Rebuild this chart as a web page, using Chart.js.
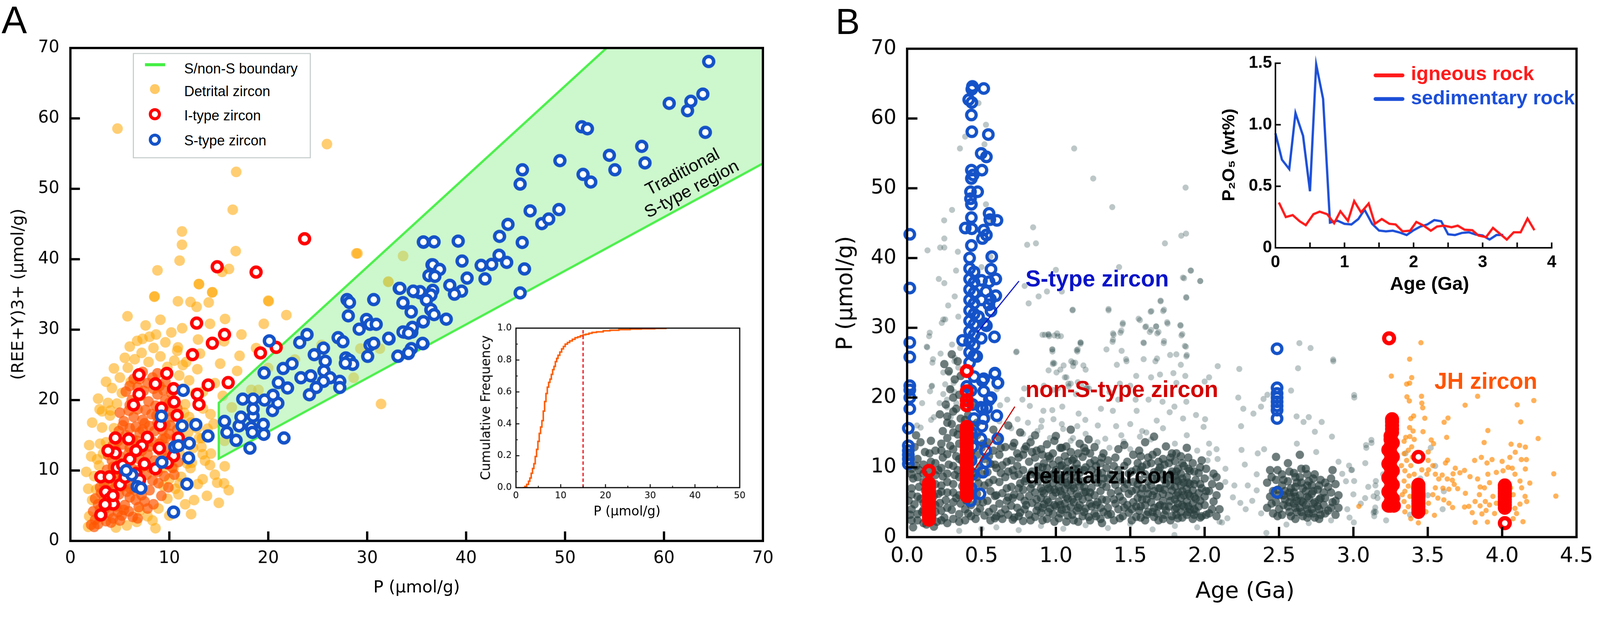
<!DOCTYPE html>
<html>
<head>
<meta charset="utf-8">
<script src="https://cdn.jsdelivr.net/npm/chart.js@4.4.1/dist/chart.umd.min.js"></script>
<style>
  html, body { margin: 0; padding: 0; background: #fff; overflow: hidden; }
  #page { position: relative; width: 4205px; height: 1584px; overflow: hidden; background: #fff; transform-origin: 0 0; }
  canvas { position: absolute; }
  .t { position: absolute; white-space: nowrap; line-height: 1; }
  .c { transform: translate(-50%, -50%); }
  .dj { font-family: 'DejaVu Sans', sans-serif; }
  .ar { font-family: 'Liberation Sans', Arial, sans-serif; }
  .b { font-weight: bold; }
  .mk { position: absolute; box-sizing: border-box; border-radius: 50%; }
</style>
</head>
<body>
<div id="page">
  <canvas id="chartA" width="2100" height="1584" style="left:0;top:0"></canvas>
  <canvas id="chartB" width="2105" height="1584" style="left:2100px;top:0"></canvas>
  <canvas id="insetA" width="800" height="560" style="left:1200px;top:820px"></canvas>
  <canvas id="insetB" width="1055" height="720" style="left:3150px;top:100px"></canvas>

  <!-- panel A text -->
  <div class="t ar" style="left:4px;top:2px;font-size:100px">A</div>
  <div class="t dj c" style="left:1095px;top:1541px;font-size:44px">P (µmol/g)</div>
  <div class="t dj" style="left:46px;top:773px;font-size:44px;transform:translate(-50%,-50%) rotate(-90deg)">(REE+Y)3+ (µmol/g)</div>
  <div class="t ar" style="left:1805px;top:473px;font-size:46px;line-height:51px;text-align:center;transform:translate(-50%,-50%) rotate(-28deg)">Traditional<br>S-type region</div>

  <div style="position:absolute;left:349px;top:139px;width:462px;height:271px;border:3px solid #c8cfcf;background:#fff"></div>
  <div style="position:absolute;left:381px;top:166px;width:53px;height:8px;background:#44ee44"></div>
  <div class="mk" style="left:394px;top:221px;width:26px;height:26px;background:rgba(255,165,0,0.6)"></div>
  <div class="mk" style="left:391px;top:284px;width:32px;height:32px;border:8px solid #ff0000;background:#fff"></div>
  <div class="mk" style="left:391px;top:351px;width:32px;height:32px;border:8px solid #1452c8;background:#fff"></div>
  <div class="t ar" style="left:484px;top:162px;font-size:37px">S/non-S boundary</div>
  <div class="t ar" style="left:484px;top:222px;font-size:37px">Detrital zircon</div>
  <div class="t ar" style="left:484px;top:285px;font-size:37px">I-type zircon</div>
  <div class="t ar" style="left:484px;top:351px;font-size:37px">S-type zircon</div>

  <div class="t dj c" style="left:1648px;top:1342px;font-size:34px">P (µmol/g)</div>
  <div class="t dj" style="left:1276px;top:1071px;font-size:34px;transform:translate(-50%,-50%) rotate(-90deg)">Cumulative Frequency</div>

  <!-- panel B text -->
  <div class="t ar" style="left:2196px;top:8px;font-size:96px">B</div>
  <div class="t dj" style="left:2219px;top:770px;font-size:58px;transform:translate(-50%,-50%) rotate(-90deg)">P (µmol/g)</div>
  <div class="t dj c" style="left:3272px;top:1550px;font-size:59px">Age (Ga)</div>
  <div class="t ar b" style="left:2695px;top:703px;font-size:60px;color:#0a14c8">S-type zircon</div>
  <div class="t ar b" style="left:2695px;top:993px;font-size:60px;color:#d20000">non-S-type zircon</div>
  <div class="t ar b" style="left:2695px;top:1220px;font-size:60px;color:#000">detrital zircon</div>
  <div class="t ar b" style="left:3770px;top:971px;font-size:60px;color:#ff5500">JH zircon</div>

  <div class="t ar b" style="left:3228px;top:407px;font-size:46px;transform:translate(-50%,-50%) rotate(-90deg)">P₂O₅ (wt%)</div>
  <div class="t ar b c" style="left:3757px;top:745px;font-size:50px">Age (Ga)</div>
  <div style="position:absolute;left:3610px;top:193px;width:81px;height:10px;border-radius:5px;background:#ff1a1a"></div>
  <div style="position:absolute;left:3610px;top:255px;width:81px;height:10px;border-radius:5px;background:#1c4fd8"></div>
  <div class="t ar b" style="left:3708px;top:166px;font-size:52px;color:#ff1a1a">igneous rock</div>
  <div class="t ar b" style="left:3708px;top:230px;font-size:52px;color:#1c4fd8">sedimentary rock</div>
</div>

<script>
// fit the 4205x1584 figure into whatever CSS viewport the browser gives us
(function () {
  const page = document.getElementById("page");
  const s = Math.min(window.innerWidth / 4205, window.innerHeight / 1584);
  page.style.transform = `scale(${s})`;
})();

// ── PANEL A DATA ─────────────────────────────────────────────────
const ticksAx = [0, 10, 20, 30, 40, 50, 60, 70];
const ticksAy = [0, 10, 20, 30, 40, 50, 60, 70];

const sTypeA = [
  [10.43,4.1],[11.77,8.07],[6.21,9.38],[5.64,10.0],[6.75,7.72],[7.12,7.48],[9.25,11.17],[11.95,11.79],
  [10.55,13.34],[10.92,13.52],[12.02,13.86],[13.91,14.9],[12.68,16.52],[11.29,16.34],[9.2,17.72],[11.41,21.38],
  [15.58,16.97],[15.82,15.41],[16.75,14.28],[17.05,16.34],[18.15,13.17],[17.24,17.58],[18.28,16.1],[18.4,15.41],
  [18.47,17.72],[18.47,18.76],[17.42,20.14],[18.47,20.14],[19.5,16.55],[19.55,15.14],[19.62,20.0],[20.43,18.52],
  [20.97,19.55],[20.48,20.69],[21.02,22.48],[21.59,14.62],[21.95,21.72],[19.58,23.86],[20.11,28.41],[21.51,24.48],
  [22.4,25.17],[23.3,23.17],[24.29,23.45],[23.18,28.17],[23.92,29.31],[24.65,26.45],[25.58,27.38],[25.76,25.52],
  [25.63,24.14],[26.25,23.17],[25.58,22.66],[24.85,21.79],[24.16,20.76],[27.23,22.66],[27.23,21.79],[27.06,28.86],
  [27.55,28.28],[27.84,25.99],[28.21,25.65],[28.53,25.07],[27.79,25.24],[27.96,34.27],[28.21,33.86],[28.09,31.96],
  [29.19,30.07],[29.93,31.45],[30.29,30.76],[30.91,30.76],[30.05,26.21],[30.29,27.83],[30.66,28.07],[30.66,34.27],
  [32.21,28.69],[33.12,26.21],[33.24,35.86],[33.61,33.79],[34.46,32.55],[34.17,26.62],[34.46,27.31],[33.73,29.65],
  [34.51,29.65],[35.64,31.1],[35.64,28.0],[34.71,35.41],[35.32,35.24],[35.69,42.41],[36.55,39.21],[36.43,34.9],
  [36.79,37.66],[36.43,32.83],[35.94,34.55],
  [64.52,68.08],[63.93,63.45],[62.72,62.43],[62.38,61.1],[60.53,62.14],[64.18,58.02],[51.69,58.81],[52.26,58.53],
  [57.75,56.03],[58.08,53.68],[54.48,54.76],[55.04,52.7],[51.82,52.05],[52.6,50.96],[49.48,54.0],[45.69,52.7],
  [45.46,50.67],[46.47,46.87],[47.65,45.06],[48.35,45.71],[49.38,47.05],[44.23,44.95],[43.38,43.25],[45.67,42.38],
  [43.33,40.57],[44.1,39.56],[45.9,38.62],[45.46,35.22],[42.58,39.27],[41.52,39.13],[41.91,37.21],[40.1,37.32],
  [39.59,39.74],[39.2,42.57],[36.76,42.46],[35.68,42.46],[36.63,39.2],[37.32,38.55],[36.24,37.68],[36.84,37.57],
  [38.35,36.3],[39.54,35.47],[38.82,35.04],[36.63,35.58],[36.45,34.93],[35.99,34.2],[35.34,35.4],[34.65,35.47],
  [33.31,35.87],[33.62,33.84],[34.44,32.5],[36.45,32.86],[36.76,32.14],[35.68,31.13],[37.99,31.49],[34.57,30.33],
  [33.62,29.68],[34.18,29.5],[32.17,28.78],[35.6,28.05],[34.18,26.71],[33.1,26.24]
];

const iTypeA = [
  [23.67,42.9],[14.84,38.93],[18.77,38.17],[12.76,30.93],[15.58,29.31],[14.35,28.07],[12.34,26.45],[19.21,26.69],
  [20.8,27.48],[15.95,22.48],[13.93,22.14],[12.83,20.83],[13.0,19.38],[9.74,23.79],[6.94,23.59],[8.59,22.31],
  [6.94,20.83],[6.38,19.31],[10.43,21.62],[10.48,19.72],[10.79,17.83],[9.2,18.86],[9.08,16.45],[10.92,14.62],
  [7.78,14.72],[5.89,14.48],[4.54,14.62],[7.24,13.52],[6.63,12.83],[4.54,12.48],[3.8,12.83],[9.0,13.17],
  [10.43,12.07],[6.01,11.62],[6.63,9.55],[4.74,10.41],[3.07,9.1],[3.93,9.1],[5.03,8.0],[3.56,6.97],
  [3.93,5.93],[4.34,5.24],[3.51,5.17],[3.07,3.69],[4.3,6.45],[5.28,10.76],[7.48,10.93],[8.59,10.24],
  [9.81,11.1],[5.52,9.03],[6.99,8.69]
];

const detritalHaloA = [
  [4.76,58.55],[25.93,56.35],[16.76,52.4],[16.41,47.03],[11.28,43.94],[11.28,42.06],[16.71,41.15],[11.04,39.8],
  [8.8,38.42],[16.03,38.62],[15.33,38.2],[12.98,36.49],[14.33,35.3],[8.48,34.67],[28.9,40.82],[33.63,40.46],
  [32.14,36.82],[20.0,34.12],[13.0,36.45],[14.35,35.31],[8.51,34.72],[10.87,34.03],[12.14,33.93],[12.76,33.24],
  [13.98,33.86],[20.04,34.03],[5.77,31.9],[14.11,30.83],[15.63,31.52],[17.29,29.31],[21.83,32.07],[19.55,30.83],
  [8.66,29.31],[7.29,28.69],[6.75,28.41],[10.87,27.48],[15.53,28.34],[17.1,26.28],[15.14,25.17],[12.83,24.38],
  [11.36,24.97],[16.85,24.14],[18.77,27.38],[29.02,40.83],[32.13,36.79],[31.28,27.31],[29.31,27.31],[28.63,23.17],
  [31.4,19.45],[25.39,27.83],[22.69,25.76],[19.99,24.55],[19.01,21.45],[18.28,21.45],[16.31,18.96],[15.58,14.21],
  [14.84,8.27],[15.53,8.17],[13.37,8.76],[12.88,8.07],[14.11,10.76],[13.37,12.31],[13.25,13.34],[12.27,11.1],
  [12.14,10.34],[14.16,18.0],[14.47,16.62],[13.86,15.93],[10.92,6.62],[11.04,8.17],[10.43,10.34],[2.95,18.69],
  [4.05,18.52],
  [1.8,2.0],[1.9,3.5],[2.2,5.8],[2.6,7.3],[2.4,9.2],[2.9,10.7],[3.3,12.4],[3.6,14.0],[3.2,16.1],[4.0,17.8],
  [4.4,16.0],[4.7,19.5],[5.2,21.0],[5.0,23.2],[5.8,24.6],[6.5,25.8],[7.2,26.7],[7.9,25.4],[8.4,27.4],[9.1,26.2],
  [9.8,24.7],[10.5,25.6],[11.0,23.5],[11.3,21.6],[11.6,19.4],[12.0,17.6],[11.9,15.4],[12.4,13.2],[11.8,11.0],
  [11.2,9.1],[10.6,7.4],[9.8,6.0],[8.9,4.6],[7.8,3.5],[6.7,2.7],[5.7,2.2],[4.6,1.9],[10.0,8.8],[9.4,10.4],
  [11.0,12.6],[12.8,16.0],[13.4,18.8],[12.6,21.0],[6.0,27.6],[9.6,28.2],[10.8,27.0],[5.5,26.0],[4.2,21.7],
  [3.8,19.6],[12.9,19.3],[13.3,14.6],[13.6,11.4],[8.3,2.9],[7.0,4.3],[9.4,7.8],[3.0,13.8],[2.7,11.6],[6.1,22.6],
  [11.5,18.2],
  [12.5,5.8],[13.8,6.4],[14.6,9.4],[15.6,10.6],[14.2,12.4],[13.0,14.6],[12.2,16.8],[13.4,21.2],[14.6,22.4],
  [15.4,20.6],[12.0,22.8],[11.7,25.4],[13.1,26.6],[10.2,29.6],[7.6,30.6],[9.1,31.4],[8.0,29.0],[11.3,30.2],
  [12.9,28.6],[4.4,24.5],[3.6,22.6],[2.8,20.2],[2.2,16.8],[1.9,13.6],[1.6,9.8],[1.8,7.4],[2.1,12.0],[3.2,18.4],
  [15.0,5.4],[16.0,7.2],[8.6,1.8],[10.0,3.6],[11.6,5.2],[12.2,3.8]
];

const detritalCoreA = [
  [2.1,2.3],[2.5,3.0],[2.8,2.4],[3.2,3.5],[3.6,2.8],[3.9,4.0],[4.3,3.2],[2.3,4.2],[4.8,4.1],[5.2,3.6],
  [2.8,5.2],[3.4,5.8],[3.9,6.3],[4.4,5.4],[4.9,6.6],[5.5,5.1],[6.0,6.2],[3.1,6.8],[5.7,7.0],[6.6,5.8],[4.2,7.2],[7.2,6.5],
  [3.4,8.2],[4.0,9.0],[4.6,8.4],[5.3,9.3],[5.9,8.1],[6.5,9.0],[7.1,8.2],[7.7,9.4],[8.3,8.6],[4.9,10.0],[6.2,10.3],[3.7,10.1],[8.8,9.8],[7.4,10.6],
  [4.2,11.4],[5.0,12.0],[5.7,11.2],[6.4,12.4],[7.0,11.6],[7.8,12.3],[8.5,11.4],[9.2,12.6],[4.6,12.9],[6.0,13.2],[8.0,13.4],[9.8,11.8],[10.4,13.0],
  [4.8,14.2],[5.6,15.0],[6.3,14.4],[7.0,15.4],[7.7,14.6],[8.5,15.6],[9.3,14.4],[10.0,15.2],[6.0,16.0],[8.0,16.3],[9.6,16.5],[10.6,14.6],
  [5.4,17.0],[6.4,17.6],[7.3,17.2],[8.2,18.0],[9.0,17.4],[9.8,18.4],[6.8,18.7],[8.6,19.2],[10.3,17.6],[5.9,18.5],
  [6.2,20.0],[7.1,20.6],[7.9,19.8],[8.8,20.8],[9.6,20.0],[6.8,21.8],[7.8,22.4],[9.0,22.0],[10.2,21.0],[8.3,23.2],[6.4,23.0],[7.3,24.0],
  [5.0,8.0],[5.6,10.5],[6.8,13.0],[7.5,13.8],[6.1,7.4],[4.5,9.6],[7.3,15.8],[8.8,13.2],[3.0,4.5],[4.0,5.0],
  [2.4,2.0],[2.9,3.4],[3.5,4.6],[4.1,2.6],[4.6,4.9],[5.0,2.9],[5.9,4.2],[6.3,3.4],[2.5,6.0],[3.0,7.6],
  [3.6,7.0],[4.4,6.2],[5.2,7.7],[5.4,4.4],[6.5,7.2],[6.9,4.8],[7.5,5.6],[8.0,7.2],[3.9,8.0],[4.3,10.5],
  [5.0,11.0],[5.6,9.6],[6.8,10.0],[7.5,11.2],[8.2,10.3],[9.0,10.9],[9.5,9.2],[3.8,12.2],[4.3,13.6],[5.3,13.7],
  [5.9,12.5],[6.7,14.2],[7.2,12.8],[8.3,14.1],[9.0,13.8],[9.7,13.3],[10.2,12.0],[4.9,15.6],[5.3,16.4],[6.6,16.2],
  [7.5,16.7],[8.8,16.8],[9.3,15.7],[10.1,16.4],[10.8,15.8],[5.0,18.2],[6.0,19.3],[7.6,18.6],[8.7,17.8],[9.4,19.0],
  [10.0,19.6],[10.8,18.8],[5.6,21.2],[7.4,21.3],[8.4,21.6],[9.4,21.4],[7.0,23.0],[8.8,23.8],[9.6,22.6],[6.0,22.0],
  [8.4,5.2],[9.2,6.4],[9.9,7.6],[10.5,9.4],[10.9,11.2],[8.9,8.2],[7.8,4.6],[6.8,3.2],[10.3,10.4],[9.6,14.6]
];

// S/non-S boundary and the traditional S-type field
const boundaryA = [[70,53.6],[15,11.7],[15,19.6],[54.2,70]];
const regionA   = [[15,11.7],[15,19.6],[54.2,70],[70,70],[70,53.6]];

// inset: cumulative frequency of detrital P
const cdfP = [1.5,2.0,2.4,2.8,3.1,3.4,3.7,4.0,4.3,4.6,4.9,5.2,5.5,5.8,6.1,6.4,6.7,7.0,7.3,7.6,7.9,8.2,8.5,8.8,9.1,9.4,9.8,10.2,10.6,11.0,11.5,12.0,12.6,13.2,13.8,14.4,15.0,15.6,16.3,17.0,18.0,19.5,21.0,23.0,25.5,28.0,31.0,33.5];
const cdfF = [0,0.008,0.02,0.04,0.06,0.09,0.12,0.15,0.195,0.24,0.29,0.34,0.38,0.42,0.48,0.54,0.59,0.63,0.66,0.68,0.71,0.74,0.76,0.79,0.81,0.83,0.85,0.87,0.885,0.90,0.91,0.92,0.93,0.94,0.945,0.952,0.958,0.962,0.968,0.973,0.977,0.983,0.987,0.991,0.994,0.996,0.998,1.0];
const cutoffP = 15;
const ticksInsetAx = [0, 10, 20, 30, 40, 50];
const ticksInsetAy = [0, 0.2, 0.4, 0.6, 0.8, 1.0];

// ── PANEL B DATA ─────────────────────────────────────────────────
const ticksBx = [0, 0.5, 1, 1.5, 2, 2.5, 3, 3.5, 4, 4.5];
const ticksBy = [0, 10, 20, 30, 40, 50, 60, 70];

const grayLightB = [
  [1.123,55.7],[1.251,51.4],[1.872,50.1],[1.379,47.3],[0.302,46.9],[0.249,45.4],[0.847,44.4],[1.843,43.2],[1.875,43.5],
  [0.25,42.8],[0.807,41.9],[0.866,42.1],[1.733,42.1],[0.137,41.1],[0.222,41.5],[0.25,41.5],[0.341,40.9],[1.425,38.7],
  [1.908,38.2],[1.854,37.2],[1.97,36.7],[1.0,38.3],[0.94,35.2],[1.04,35.2],[0.79,36.0],[0.213,37.0],[0.25,36.4],
  [0.329,38.2],[1.876,34.4],[0.884,34.5],[0.817,33.5],[1.704,33.9],[1.113,32.6],[1.354,32.7],[1.642,32.4],[1.727,32.6],
  [1.837,30.4],[1.748,30.8],[1.45,30.7],[1.556,31.3],[1.606,30.2],[1.674,30.2],[1.64,29.7],[1.69,29.4],[1.85,29.1],
  [1.384,29.2],[1.44,29.6],[0.95,29.1],[0.91,29.0],[0.99,28.9],[1.589,27.9],[1.727,28.1],[1.384,28.3],[1.166,27.9],
  [1.867,27.4],[0.733,26.5],[0.976,26.9],[1.14,26.8],[1.34,26.9],[1.88,26.1],[1.472,25.5],[1.81,26.2],[1.68,25.6],
  [1.59,25.5],[1.13,25.0],[0.98,24.8],[1.03,24.0],[1.2,24.0],[1.41,24.7],[1.84,24.7],[1.54,23.1],[1.64,22.9],
  [1.70,23.3],[1.79,23.5],[1.87,23.1],[2.03,22.9],[1.06,22.9],[1.1,22.0],[1.43,22.0],[1.5,21.7],[1.81,22.1],
  [2.0,22.3],[0.92,21.7],[0.98,21.1],[1.21,21.4],
  [0.135,27.2],[0.152,29.3],[0.17,25.0],[0.243,31.2],[0.225,26.3],[0.276,33.2],[0.32,34.5],[0.302,27.6],[0.32,25.7],
  [0.165,21.6],[0.243,23.6],[0.355,55.7],[0.39,57.4],[0.48,62.2],[0.53,59.1],[0.52,56.3],[0.53,47.7],[0.55,45.2],
  [0.5,38.7],[0.56,40.2],
  [1.112,32.5],[1.354,32.5],[1.637,32.3],[1.721,32.4],[1.704,33.8],[1.877,34.3],[1.971,36.7],[1.906,38.2],[1.862,37.1],
  [1.565,31.1],[1.449,30.5],[1.601,30.1],[1.674,30.2],[1.751,30.6],[1.838,30.3],[1.434,29.3],[1.388,29.0],[1.631,29.4],
  [1.681,29.2],[1.844,28.9],[1.381,28.0],[1.166,27.7],[1.013,28.8],[0.955,28.8],[1.725,27.8],[1.591,27.8],[1.874,27.3],
  [1.442,26.7],[1.144,26.6],[0.977,26.6],[1.768,26.1],[1.877,25.9],[1.669,25.2],[1.475,25.2],[1.115,25.0],[0.99,24.9],
  [2.233,24.1],[2.088,24.5],[2.628,24.2],[2.637,27.8],[2.712,27.1],[2.865,25.2],[2.581,21.0],[3.006,20.0],[2.226,20.0],
  [2.26,18.4],[2.328,17.7],[2.379,18.7],[2.396,19.8],[2.422,20.4],[2.618,17.3],[2.7,17.2],[2.787,16.5],[2.665,16.5],
  [2.741,15.1],[2.856,14.4],[3.122,13.5],[3.087,12.8],[2.986,9.6],[3.148,7.4],[3.162,5.6],[3.14,3.0],[3.14,3.7],
  [2.974,2.8],[3.003,2.1],[2.415,0.6],[1.797,0.3],[2.245,15.9],[2.248,12.5],[2.357,12.0],[2.27,10.4],[2.2,7.4],
  [2.24,4.9],[2.276,4.0],[2.153,2.7],[2.117,2.1],[2.19,5.7],[2.29,7.4],[2.35,6.7],[2.139,7.9],[2.044,8.6],
  [2.03,12.0],[2.087,11.2],[2.03,13.4],[2.003,16.9],[1.877,19.4],[1.797,18.7],[1.717,19.4],[1.623,19.7],[1.536,19.7],
  [1.419,19.7],[1.361,20.8],[1.223,21.3],[1.172,21.7],[1.085,21.6],[1.013,21.3],[1.303,18.4],[1.383,18.1],[1.543,18.1],
  [1.678,16.7],[1.765,17.9],[1.855,17.0],[1.942,17.5],[1.993,15.8],[1.5,16.2],[1.405,15.9],[1.282,16.0],[1.144,15.9],
  [1.049,15.5],[0.984,16.9],[1.115,14.2],[1.332,14.1],[1.456,13.7],[1.565,14.4],[1.608,15.0],
  [0.101,19.2],[0.148,28.8],[0.132,27.3],[0.174,25.5],[0.233,30.7],[0.256,31.2],[0.344,31.6],[0.167,21.7],[0.154,20.9],
  [0.18,17.2],[0.161,16.8],[0.066,16.0],[0.091,15.7],[0.736,26.6],[0.926,29.0],[0.951,29.0],[1.008,29.2],[1.034,28.8],
  [1.166,27.9],[1.147,26.9],[0.976,26.9],[0.982,25.0],[1.052,24.6],[1.116,24.5],[1.185,24.6],[1.103,25.2],[0.951,23.9],
  [1.004,23.6],[1.071,22.9],[1.084,22.0],[1.147,22.2],[1.204,21.3],[1.135,20.5],[1.043,18.7],[0.916,18.1],[0.976,18.2],
  [1.153,17.7],[1.198,16.8],[0.905,16.7],[0.825,18.8],[0.775,19.7],[0.787,21.3],[0.743,16.9],[0.673,19.7],[0.603,21.2],
  [0.625,18.9],[0.812,16.4],[0.876,15.2],[0.831,14.2],
  [0.243,20.5],[0.268,19.7],[0.218,19.2],[0.293,21.3],[0.318,20.8],[0.256,21.9],[0.293,17.2],[0.268,18.6],[0.331,19.2],
  [0.313,22.1],[0.281,23.5],[0.344,24.3],[0.318,25.2],[0.356,27.1],
  [3.05,4.8],[3.1,7.2],[3.15,3.6],[3.2,9.0],[3.3,5.6],[3.35,12.0],[3.38,3.2],[3.45,8.4],[3.5,6.0],[3.55,10.2],
  [3.6,4.0],[3.22,2.4],[3.08,10.6],[3.28,14.2],[3.52,12.8],
  [2.864,25.45],[3.005,20.36],[3.121,13.93],[3.085,13.19],[2.971,10.25],[2.991,9.64],[2.925,9.07],[3.005,8.04],
  [3.0,6.13],[3.079,5.59],[3.136,5.84],[3.159,6.33],[3.151,8.04],[3.147,4.24],[3.136,3.5],[2.959,3.99],[3.608,6.57],
  [0.55,17.2],[0.62,16.6],[0.7,15.6],[0.78,14.8],[0.9,15.8],[0.96,14.2],[1.04,16.2],[1.1,13.8],[1.2,14.8],[1.28,13.6],
  [1.36,12.8],[1.44,14.6],[1.5,12.6],[1.58,15.2],[1.64,14.0],[1.72,15.6],[1.8,13.4],[1.88,14.6],[1.95,12.4],[2.02,11.0],
  [2.08,12.6],[2.14,9.8],[0.6,1.4],[0.75,1.0],[0.9,1.6],[1.05,1.2],[1.2,1.7],[1.35,1.3],[1.5,1.9],[1.65,1.1],[1.8,1.6],
  [1.95,1.4],[2.1,2.2],[0.35,0.9],[0.5,1.2],[2.55,1.8],[2.7,2.0],[2.85,2.4],[2.4,12.6],[2.62,13.4],[2.75,12.2],
  [2.9,10.8],[2.95,8.0],[2.38,3.4],[2.35,9.0],[2.32,5.2]
];

const grayCoreLeftB = [
  [0.02,3.2],[0.03,6.1],[0.04,8.4],[0.05,4.7],[0.06,10.2],[0.07,2.4],[0.08,7.2],[0.09,5.5],[0.1,3.6],[0.11,9.1],
  [0.12,6.7],[0.13,1.8],[0.14,4.4],[0.15,8.2],[0.16,10.8],[0.17,3.0],[0.18,5.9],[0.19,7.6],[0.2,2.2],[0.21,9.6],
  [0.22,4.9],[0.23,6.5],[0.24,11.4],[0.02,11.8],[0.05,12.9],[0.09,13.6],[0.01,5.2],[0.04,1.4],[0.08,9.6],[0.12,12.2],
  [0.16,13.8],[0.19,12.4],[0.06,14.6],[0.03,9.8],[0.11,3.9],[0.18,1.5],
  [0.25,2.8],[0.26,5.3],[0.27,7.9],[0.28,10.4],[0.29,13.1],[0.3,3.9],[0.31,6.4],[0.32,8.9],[0.33,11.6],[0.34,14.7],
  [0.35,2.2],[0.36,4.8],[0.37,7.3],[0.38,9.8],[0.39,12.5],[0.4,15.8],[0.41,3.4],[0.42,6.0],[0.43,8.5],[0.44,11.0],
  [0.45,13.9],[0.46,2.6],[0.47,5.1],[0.48,7.7],[0.49,10.1],[0.5,12.8],[0.24,15.2],[0.27,17.3],[0.3,16.2],[0.33,18.4],
  [0.36,17.0],[0.39,19.6],[0.26,19.0],[0.29,21.2],[0.32,22.6],[0.35,20.4],[0.28,23.8],[0.31,15.0],[0.23,13.4],[0.22,17.6],
  [0.21,6.2],[0.24,8.7],[0.33,5.6],[0.37,10.9],[0.4,5.2],[0.43,3.0],[0.46,9.2],[0.49,4.1],[0.27,11.9],[0.34,9.6],
  [0.38,14.2],[0.41,17.5],[0.44,16.1],[0.47,14.6],[0.25,24.8],[0.3,26.2],[0.34,25.2],[0.36,23.1],[0.42,21.4],[0.45,19.0]
];

// [age, [P values]] read column by column from the dense band
const grayCoreColsB = [
  [0.52,[3.1,7.4,11.2]],[0.54,[5.2,9.3,13.6]],[0.56,[2.4,6.6,10.5]],[0.58,[4.1,8.2,12.4,15.4]],[0.6,[3.0,6.0,9.9]],
  [0.62,[4.8,7.9,11.8,14.2]],[0.64,[2.6,6.3,10.3]],[0.66,[4.0,8.6,12.9]],[0.68,[3.2,5.7,9.4,16.0]],[0.7,[4.5,7.2,11.0]],
  [0.72,[2.8,6.1,8.8,13.5]],[0.74,[4.2,10.2,12.0]],[0.76,[3.5,5.8,7.7,15.0]],[0.78,[2.3,6.8,9.6,11.8]],[0.8,[4.6,8.4,13.0]],
  [0.82,[3.2,5.9,10.8]],[0.84,[4.9,7.6,9.4,12.2]],[0.86,[2.9,6.4,11.4,14.6]],[0.88,[4.4,8.0,10.1]],[0.9,[3.5,5.6,7.0,9.1,12.6]],
  [0.92,[4.7,6.3,8.5,10.6]],[0.94,[2.6,5.3,7.6,9.9,13.3]],[0.96,[4.1,6.8,8.9,11.3]],[0.98,[3.3,5.9,7.8,10.4,12.0]],
  [1.0,[4.4,6.4,8.3,9.6,14.5]],[1.02,[2.7,5.1,7.2,9.0,11.0]],[1.04,[3.9,6.1,8.0,10.3,12.8]],[1.06,[4.8,6.9,8.7,11.6]],
  [1.08,[3.1,5.5,7.5,9.4,10.8]],[1.1,[4.3,6.6,8.2,12.2,15.4]],[1.12,[2.4,5.0,7.0,9.8,11.2]],[1.14,[3.8,6.2,8.6,10.5]],
  [1.16,[4.6,7.3,9.2,13.4]],[1.18,[3.0,5.4,8.0,11.5]],[1.2,[4.1,6.5,10.0,12.3]],[1.22,[2.9,5.7,8.3,14.0]],[1.24,[4.4,7.1,9.6]],
  [1.26,[3.4,6.0,11.0,12.9]],[1.28,[5.0,7.8,9.2]],[1.3,[2.6,4.2,6.6,10.6]],[1.32,[3.6,8.4,12.0]],[1.34,[5.3,7.2,9.9]],
  [1.37,[3.3,6.3,9.0]],[1.4,[4.8,7.5,11.4]],[1.43,[2.7,5.8,8.6]],[1.46,[4.2,7.0,10.2,13.2]],[1.49,[3.5,6.2,9.1]],
  [1.52,[5.0,7.9,11.8]],[1.54,[2.9,4.4,6.8,9.7]],
  [1.56,[3.8,8.2,12.4]],[1.58,[5.4,7.0,10.1]],[1.6,[2.4,4.6,9.0,13.6]],[1.62,[3.6,6.2,8.0,11.4]],[1.64,[5.0,7.4,10.6]],
  [1.66,[2.9,4.2,6.6,9.3,14.4]],[1.68,[3.4,5.8,8.4,12.2]],[1.7,[4.6,7.0,10.0]],[1.72,[2.6,5.2,6.2,9.0,11.2]],
  [1.74,[3.8,7.7,13.0]],[1.76,[4.4,5.9,8.5,10.6]],[1.78,[3.0,6.7,9.4,12.0]],[1.8,[4.0,5.4,7.2,8.8,10.9]],
  [1.82,[2.7,4.8,6.4,8.0,9.8]],[1.84,[3.6,5.6,7.4,9.1,11.6]],[1.86,[4.4,6.0,7.8,10.2]],[1.88,[3.2,5.1,6.9,8.6,12.8]],
  [1.9,[4.0,5.9,7.6,9.5]],[1.92,[2.6,4.8,6.7,10.6]],[1.94,[3.7,5.5,8.2]],[1.96,[4.4,6.3,9.2]],[1.98,[3.0,7.0,11.0]],
  [2.0,[4.6,5.8,8.4]],[2.03,[3.4,6.6]],[2.06,[5.1,9.1]],[2.1,[4.0,7.3]],
  [2.42,[4.2,7.8]],[2.44,[5.8,9.6]],[2.46,[3.4,6.6]],[2.48,[5.0,8.2,11.5]],[2.5,[4.0,6.0]],[2.52,[3.2,7.4,9.0]],
  [2.54,[5.4,6.6]],[2.56,[4.4,8.0,10.6]],[2.58,[3.0,5.8,7.0]],[2.6,[4.8,6.4,9.2]],[2.62,[3.6,5.2,7.8]],
  [2.64,[4.2,6.0,8.6,11.8]],[2.66,[3.0,5.0,7.0]],[2.68,[4.6,6.6,9.8]],[2.7,[3.4,5.6,8.0]],[2.72,[4.0,6.2,7.4]],
  [2.74,[2.8,5.0,9.0]],[2.76,[4.4,6.8]],[2.78,[3.2,5.6,8.2]],[2.8,[4.6,6.4]],[2.83,[3.8,7.2]],[2.86,[5.0,9.6]],[2.9,[4.2,6.0]],
  // second pass, in-between ages
  [0.03,[2.4,4.0,7.0,9.0]],[0.07,[3.3,5.8,8.6,11.2]],[0.11,[2.0,4.9,7.9,10.4]],[0.15,[2.6,5.1,6.4,9.4,12.0]],
  [0.19,[3.6,4.6,8.9,10.6]],[0.23,[2.4,3.8,7.4,9.9,12.4]],[0.27,[2.0,4.2,6.4,9.1,14.2,16.4]],
  [0.31,[2.6,5.0,7.6,10.2,12.6,18.0,20.0]],[0.35,[3.3,6.0,8.6,11.2,13.4,15.6]],[0.39,[2.4,4.0,6.8,8.2,10.6,13.4,16.8]],
  [0.43,[4.6,7.2,9.6,12.2,14.6]],[0.47,[3.6,6.2,8.6,11.8,16.4]],
  [0.51,[5.0,9.0,13.4]],[0.55,[3.6,7.8,11.6]],[0.59,[2.7,5.9,10.4]],[0.63,[3.4,9.2,12.8]],[0.67,[5.2,7.0,10.8]],
  [0.71,[2.5,5.6,9.6,13.0]],[0.75,[3.0,7.0,9.0,11.4]],[0.79,[4.0,5.2,8.0,12.6]],[0.83,[2.4,7.0,9.0,13.6]],
  [0.87,[3.8,5.4,8.8,12.4]],[0.91,[2.4,4.2,6.6,10.0,11.8]],[0.95,[3.6,5.0,7.0,8.6,11.6]],[0.99,[2.2,4.6,6.8,9.2,13.8]],
  [1.03,[3.4,4.6,6.6,8.4,10.2,12.8]],[1.07,[2.2,4.0,5.8,7.8,9.8,13.0]],[1.11,[3.2,5.4,7.4,9.2,11.0]],
  [1.15,[2.2,4.2,5.8,8.0,9.8,12.0]],[1.19,[3.6,6.4,7.2,9.6,12.8]],[1.23,[2.4,4.8,6.4,10.6,12.0]],[1.27,[3.0,4.6,8.4,10.2]],
  [1.31,[2.0,5.4,7.6,9.2,11.4]],[1.35,[3.2,4.2,8.4,11.0]],[1.39,[2.4,5.4,8.2,10.2]],[1.42,[4.0,6.6,9.6,12.6]],
  [1.45,[3.0,5.2,8.0]],[1.48,[4.6,7.6,10.8]],[1.51,[2.4,4.0,6.6,9.4]],[1.55,[5.6,7.6,10.6]],[1.57,[2.8,4.4,6.2,9.6,11.6]],
  [1.61,[3.2,5.4,7.0,10.4]],[1.65,[3.6,6.0,8.4,11.8]],[1.69,[2.4,4.4,7.0,9.6,10.8]],[1.73,[3.2,4.4,6.8,8.2,10.4]],
  [1.77,[2.4,5.2,7.4,9.0,11.4]],[1.81,[3.2,4.2,6.0,8.2,9.4,12.0]],[1.85,[2.8,4.6,6.6,8.4,10.6]],
  [1.89,[3.6,4.4,6.2,7.8,9.8,11.4]],[1.93,[3.2,4.0,5.8,7.6,9.4]],[1.97,[2.8,5.2,7.6,10.0]],[2.01,[3.2,6.6,9.8]],
  [2.05,[4.0,7.6]],[2.08,[3.0,6.0,8.6]],
  [2.45,[4.8,8.6]],[2.49,[3.0,6.8,9.6]],[2.53,[4.6,6.0,8.2]],[2.57,[3.6,5.0,6.4,9.4]],[2.61,[2.6,4.2,5.8,7.2,8.6]],
  [2.65,[3.6,5.2,7.8,9.8]],[2.69,[2.8,4.0,5.8,7.4,9.0]],[2.73,[3.4,4.8,6.6,8.4]],[2.77,[2.6,4.0,5.4,7.4]],
  [2.81,[3.4,5.6,7.8]],[2.85,[4.2,6.4,8.4]],[2.88,[3.2,5.2,7.6]]
];

const jhB = [
  [3.454,27.86],[3.378,25.51],[3.255,23.08],[3.392,22.86],[3.358,21.93],[3.378,22.07],[3.36,20.11],[3.376,19.52],
  [3.458,20.19],[3.46,19.2],[3.466,18.54],[3.835,20.19],[3.751,18.91],[4.101,18.96],[4.213,19.57],[3.405,17.36],
  [3.386,16.99],[3.48,17.04],[3.636,17.07],[3.61,16.46],[4.125,16.51],[3.378,15.7],[3.401,15.21],[3.468,15.11],
  [3.38,14.42],[3.352,14.3],[3.409,14.0],[3.341,13.73],[3.627,14.3],[3.523,13.93],[3.539,13.39],[3.904,15.28],
  [3.879,13.56],[4.242,14.13],[4.06,13.32],[4.117,13.15],[4.156,12.9],[4.088,12.17],[4.052,11.43],[4.129,11.11],
  [4.163,11.11],[3.932,11.11],[3.86,11.43],[3.815,10.99],[3.898,10.62],[4.0,10.86],[3.503,12.21],[3.503,10.99],
  [3.534,10.25],[3.633,11.03],[3.619,10.62],[3.685,9.88],[3.747,9.56],[3.716,9.22],[3.67,9.07],[3.505,9.64],
  [3.551,9.02],[3.597,8.9],[3.631,8.33],[3.574,8.33],[3.665,8.16],[3.678,7.55],[3.784,8.66],[3.835,8.33],
  [4.156,9.76],[4.186,7.75],[4.347,9.07],[4.361,5.88],[3.753,6.28],[3.701,6.94],[3.642,6.87],[3.602,7.01],
  [3.551,7.06],[3.534,6.08],[3.568,5.59],[3.608,5.34],[3.642,4.85],[3.667,4.24],[3.747,4.31],[3.776,4.41],
  [3.799,3.5],[3.818,2.11],[3.901,2.16],[3.864,3.33],[3.892,3.82],[3.852,4.48],[3.818,5.1],[3.847,6.08],
  [3.881,7.06],[3.915,7.8],[3.904,9.02],[3.961,9.27],[3.938,5.84],[3.961,4.85],[3.949,3.38],[4.074,2.65],
  [4.14,2.21],[4.097,3.38],[4.12,4.73],[4.154,5.84],[4.165,5.1],[4.131,7.06],[4.12,8.04],[4.086,9.02],
  [4.068,9.88],[4.04,10.0],[4.006,9.51],[4.057,7.06],[4.074,6.08],[4.086,4.12],[3.915,4.61],[3.852,7.19],
  [3.887,5.1],
  [3.341,11.96],[3.369,12.45],[3.392,12.94],[3.358,10.99],[3.386,10.25],[3.346,9.51],[3.375,8.78],[3.341,8.04],
  [3.369,7.31],[3.346,6.57],[3.38,5.84],[3.341,5.1],[3.369,4.36],[3.346,3.63],[3.386,2.65],[3.437,2.04],
  [3.403,7.06],[3.409,9.02],[3.397,11.47],[3.323,10.25],[3.329,6.08],[3.494,9.02],[3.505,4.85],[3.488,3.63],
  [3.545,3.13],[3.46,9.64],[3.037,4.41]
];

const sTypeB = [
  [0.018,43.4],[0.018,35.7],[0.018,27.9],[0.018,25.8],[0.018,21.7],[0.018,21.1],[0.018,20.0],[0.018,18.4],
  [0.008,15.6],[0.008,13.1],[0.008,12.4],[0.008,11.8],[0.008,11.2],[0.008,10.5],
  [0.439,64.6],[0.435,64.2],[0.515,64.3],[0.414,62.7],[0.435,62.3],[0.432,60.5],[0.435,58.1],[0.546,57.7],
  [0.498,55.0],[0.533,54.5],[0.432,52.6],[0.503,52.6],[0.444,51.9],[0.432,51.4],[0.426,49.5],[0.474,49.5],
  [0.426,48.5],[0.432,47.7],[0.551,46.4],[0.604,45.4],[0.556,45.5],[0.432,45.8],[0.391,44.3],[0.435,44.2],
  [0.515,44.0],[0.533,43.3],[0.506,42.8],[0.432,41.8],[0.569,40.2],[0.564,38.4],[0.596,37.0],[0.551,36.6],
  [0.596,34.6],[0.56,34.1],[0.564,32.4],[0.533,30.3],[0.587,28.7],[0.373,28.2],[0.498,28.5],[0.468,25.9],
  [0.59,23.5],[0.611,22.1],[0.515,22.7],[0.564,20.0],[0.506,18.4],
  [0.42,25.0],[0.42,26.5],[0.42,28.0],[0.42,29.5],[0.42,31.0],[0.42,32.5],[0.42,34.0],[0.42,35.5],[0.42,37.0],
  [0.42,38.5],[0.42,40.0],[0.45,26.0],[0.45,27.5],[0.45,29.0],[0.45,30.5],[0.45,32.0],[0.45,33.5],[0.45,35.0],
  [0.45,36.5],[0.45,38.0],[0.5,36.8],[0.53,35.2],[0.5,34.0],[0.55,33.3],[0.48,31.6],[0.52,30.6],
  [0.506,22.4],[0.59,23.4],[0.609,22.1],[0.515,20.9],[0.553,19.7],[0.496,18.6],[0.534,18.5],[0.603,17.4],
  [0.515,17.0],[0.503,15.9],[0.496,14.1],[0.609,14.1],[0.528,12.4],[0.528,10.7],[0.509,9.3],[0.49,6.2],
  [0.426,5.2],[0.401,21.6],[0.401,20.8],
  [0.43,7.0],[0.44,9.0],[0.43,11.0],[0.44,13.0],[0.43,15.0],[0.45,17.0],[0.44,19.0],[0.43,21.0],[0.45,23.0],
  [2.487,27.0],[2.487,21.4],[2.487,20.6],[2.487,20.0],[2.487,19.4],[2.487,18.8],[2.487,18.2],[2.487,17.0],[2.487,6.4]
];

const nonSB = [
  [0.147,2.5],[0.147,2.9],[0.147,3.3],[0.147,3.7],[0.147,4.1],[0.147,4.5],[0.147,4.9],[0.147,5.3],[0.147,5.7],
  [0.147,6.1],[0.147,6.5],[0.147,6.9],[0.147,7.3],[0.147,7.7],[0.147,9.5],
  [0.401,5.9],[0.401,6.4],[0.401,6.9],[0.401,7.4],[0.401,7.9],[0.401,8.4],[0.401,8.9],[0.401,9.4],[0.401,9.9],
  [0.401,10.4],[0.401,10.9],[0.401,11.4],[0.401,11.9],[0.401,12.4],[0.401,12.9],[0.401,13.4],[0.401,13.9],
  [0.401,14.4],[0.401,14.9],[0.401,15.4],[0.401,15.8],[0.401,18.9],[0.401,19.6],[0.401,20.9],[0.401,23.8],
  [3.25,4.5],[3.236,4.5],[3.272,4.5],[3.25,5.0],[3.265,5.5],[3.25,6.0],[3.235,6.5],[3.25,7.0],[3.265,7.5],
  [3.25,8.0],[3.235,8.5],[3.25,9.0],[3.265,9.5],[3.25,10.0],[3.235,10.5],[3.25,11.0],[3.265,11.5],[3.25,12.0],
  [3.235,12.5],[3.25,13.0],[3.265,13.5],[3.25,14.0],[3.25,14.5],[3.26,15.0],[3.26,15.5],[3.26,16.0],[3.26,16.5],
  [3.26,16.9],[3.24,28.5],
  [3.437,3.6],[3.437,4.0],[3.437,4.4],[3.437,4.8],[3.437,5.2],[3.437,5.6],[3.437,6.0],[3.437,6.4],[3.437,6.8],
  [3.437,7.2],[3.437,7.5],[3.437,11.5],
  [4.018,4.2],[4.018,4.6],[4.018,5.0],[4.018,5.4],[4.018,5.8],[4.018,6.2],[4.018,6.6],[4.018,7.0],[4.018,7.4],[4.018,2.0]
];

// label pointers [age, P]
const sTypePointer    = [[0.752,36.7],[0.473,29.35]];
const nonSTypePointer = [[0.724,18.7],[0.451,9.6]];

// inset: P2O5 of rocks through time
const igneousAge = [0.05,0.15,0.25,0.35,0.44,0.55,0.64,0.75,0.85,0.94,1.05,1.14,1.24,1.35,1.44,1.54,1.65,1.74,1.84,1.95,2.04,2.14,2.25,2.34,2.44,2.55,2.64,2.74,2.85,2.94,3.05,3.15,3.24,3.35,3.45,3.55,3.65,3.75];
const igneousP2O5 = [0.368,0.25,0.266,0.216,0.184,0.273,0.294,0.273,0.2,0.297,0.219,0.38,0.288,0.36,0.195,0.234,0.195,0.19,0.134,0.139,0.21,0.182,0.139,0.173,0.18,0.167,0.18,0.147,0.143,0.10,0.087,0.162,0.119,0.067,0.126,0.126,0.238,0.143];
const sedAge = [0,0.094,0.2,0.29,0.4,0.5,0.59,0.69,0.79,0.9,1.0,1.1,1.2,1.29,1.4,1.5,1.6,1.7,1.79,1.9,2.0,2.1,2.2,2.3,2.4,2.5,2.6,2.7,2.8,2.9,3.0,3.1,3.2,3.3];
const sedP2O5 = [0.93,0.716,0.64,1.095,0.91,0.46,1.49,1.21,0.205,0.22,0.195,0.19,0.234,0.31,0.195,0.14,0.134,0.139,0.126,0.104,0.143,0.173,0.19,0.225,0.216,0.11,0.104,0.121,0.126,0.108,0.10,0.067,0.104,0.104];
const ticksInsetBx = [0, 1, 2, 3, 4];
const ticksInsetBy = [0, 0.5, 1.0, 1.5];
const minorInsetBx = [0.5, 1, 1.5, 2, 2.5, 3, 3.5, 4];

// ── HELPERS ──────────────────────────────────────────────────────
Chart.defaults.font.family = "'DejaVu Sans', sans-serif";
Chart.defaults.color = "#000";

const pts = arr => arr.map(([x, y]) => ({ x, y }));
const zipPts = (xs, ys) => xs.map((x, i) => ({ x, y: ys[i] }));
const colPts = cols => cols.flatMap(([x, ys]) => ys.map(y => ({ x, y })));

// frame, inward ticks and pointer lines
const framePlugin = {
  id: "frame",
  afterDatasetsDraw(chart, args, o) {
    const { ctx, chartArea: a, scales } = chart;
    ctx.save();
    ctx.strokeStyle = "#000";
    ctx.lineWidth = o.lw;
    ctx.lineCap = "square";
    if (o.box) {
      ctx.strokeRect(a.left, a.top, a.right - a.left, a.bottom - a.top);
    } else {
      ctx.beginPath();
      ctx.moveTo(a.left, a.top);
      ctx.lineTo(a.left, a.bottom);
      ctx.lineTo(a.right, a.bottom);
      ctx.stroke();
    }
    ctx.lineCap = "butt";
    (o.marks || []).forEach(m => {
      ctx.lineWidth = m.w;
      const sc = scales[m.axis];
      m.values.forEach(v => {
        const p = sc.getPixelForValue(v);
        ctx.beginPath();
        if (m.axis === "x") { ctx.moveTo(p, a.bottom); ctx.lineTo(p, a.bottom - m.len); }
        else { ctx.moveTo(a.left, p); ctx.lineTo(a.left + m.len, p); }
        ctx.stroke();
      });
    });
    (o.lines || []).forEach(l => {
      ctx.strokeStyle = l.color;
      ctx.lineWidth = l.w;
      ctx.beginPath();
      l.pts.forEach(([x, y], i) => {
        const px = scales.x.getPixelForValue(x), py = scales.y.getPixelForValue(y);
        i ? ctx.lineTo(px, py) : ctx.moveTo(px, py);
      });
      ctx.stroke();
    });
    ctx.restore();
  }
};

function axis(min, max, ticks, fmt, font, pad, fit) {
  return {
    type: "linear", min, max,
    afterBuildTicks: s => { s.ticks = ticks.map(v => ({ value: v })); },
    afterFit: fit,
    grid: { display: false, drawTicks: false },
    border: { display: false },
    ticks: { padding: pad, color: "#000", autoSkip: false, maxRotation: 0, minRotation: 0, callback: fmt, font }
  };
}

const baseOpts = {
  responsive: false,
  devicePixelRatio: 1,
  animation: false,
  events: [],
  plugins: { legend: { display: false }, tooltip: { enabled: false } },
};

const ring = (data, color, r, bw, bg, order) => ({
  data: pts(data), order, clip: false,
  pointRadius: r, pointBorderWidth: bw, pointBorderColor: color, pointBackgroundColor: bg
});
const dots = (data, color, r, order) => ({
  data, order, pointRadius: r, pointBorderWidth: 0, pointBackgroundColor: color
});

// ── PANEL A ──────────────────────────────────────────────────────
new Chart(document.getElementById("chartA"), {
  type: "scatter",
  data: {
    datasets: [
      dots(pts(detritalHaloA), "rgba(255,165,0,0.55)", 14, 10),
      dots(pts(detritalCoreA), "rgba(255,85,0,0.7)", 14, 9),
      { type: "line", data: pts(regionA), order: 8, fill: "shape", backgroundColor: "rgba(144,238,144,0.45)",
        borderWidth: 0, pointRadius: 0, tension: 0 },
      { type: "line", data: pts(boundaryA), order: 7, fill: false, borderColor: "#4cf04c", borderWidth: 6,
        pointRadius: 0, tension: 0, borderJoinStyle: "miter" },
      ring(iTypeA, "#ff0000", 13, 9, "#ffffff", 6),
      ring(sTypeA, "#1452c8", 13, 9, "#ffffff", 5),
    ]
  },
  options: {
    ...baseOpts,
    layout: { autoPadding: false, padding: { left: 0, top: 126, right: 95, bottom: 0 } },
    scales: {
      x: axis(0, 70, ticksAx, v => String(v), { family: "'DejaVu Sans'", size: 44 }, 20, s => { s.height = 163; }),
      y: axis(0, 70, ticksAy, v => String(v), { family: "'DejaVu Sans'", size: 44 }, 29, s => { s.width = 185; }),
    },
    plugins: {
      ...baseOpts.plugins,
      frame: {
        lw: 6, box: true,
        marks: [
          { axis: "x", values: ticksAx.slice(1, -1), len: 25, w: 6 },
          { axis: "y", values: ticksAy.slice(1, -1), len: 25, w: 6 },
        ]
      }
    }
  },
  plugins: [framePlugin]
});

// ── INSET A: cumulative frequency ────────────────────────────────
new Chart(document.getElementById("insetA"), {
  type: "line",
  data: {
    datasets: [
      { data: [{ x: cutoffP, y: 0 }, { x: cutoffP, y: 1 }], borderColor: "#e8000b", borderWidth: 3,
        borderDash: [9, 6], pointRadius: 0, order: 1 },
      { data: zipPts(cdfP, cdfF), borderColor: "#ff5a00", borderWidth: 4, pointRadius: 0,
        stepped: true, order: 2 },
    ]
  },
  options: {
    ...baseOpts,
    layout: { autoPadding: false, padding: { left: 0, top: 42, right: 56, bottom: 0 } },
    scales: {
      x: axis(0, 50, ticksInsetAx, v => String(v), { family: "'DejaVu Sans'", size: 24 }, 7, s => { s.height = 99; }),
      y: axis(0, 1, ticksInsetAy, v => v.toFixed(1), { family: "'DejaVu Sans'", size: 24 }, 11, s => { s.width = 156; }),
    },
    plugins: {
      ...baseOpts.plugins,
      frame: {
        lw: 3, box: true,
        marks: [
          { axis: "x", values: [10, 20, 30, 40], len: 9, w: 2.5 },
          { axis: "x", values: [5, 15, 25, 35, 45], len: 5, w: 2 },
          { axis: "y", values: [0.2, 0.4, 0.6, 0.8], len: 9, w: 2.5 },
          { axis: "y", values: [0.1, 0.3, 0.5, 0.7, 0.9], len: 5, w: 2 },
        ]
      }
    }
  },
  plugins: [framePlugin]
});

// ── PANEL B ──────────────────────────────────────────────────────
new Chart(document.getElementById("chartB"), {
  type: "scatter",
  data: {
    datasets: [
      dots(pts(grayLightB), "rgba(47,79,79,0.32)", 8, 10),
      dots([...pts(grayCoreLeftB), ...colPts(grayCoreColsB)], "rgba(40,60,60,0.68)", 11, 9),
      dots(pts(jhB), "rgba(255,135,0,0.65)", 7, 8),
      ring(sTypeB, "#1452c8", 12.5, 8.5, "rgba(0,0,0,0)", 7),
      ring(nonSB, "#ff0000", 13, 11, "rgba(0,0,0,0)", 6),
    ]
  },
  options: {
    ...baseOpts,
    layout: { autoPadding: false, padding: { left: 0, top: 128, right: 42, bottom: 0 } },
    scales: {
      x: axis(0, 4.5, ticksBx, v => v.toFixed(1), { family: "'DejaVu Sans'", size: 55 }, 18, s => { s.height = 173; }),
      y: axis(0, 70, ticksBy, v => String(v), { family: "'DejaVu Sans'", size: 53 }, 28, s => { s.width = 284; }),
    },
    plugins: {
      ...baseOpts.plugins,
      frame: {
        lw: 6, box: true,
        marks: [
          { axis: "x", values: ticksBx.slice(1, -1), len: 27, w: 6 },
          { axis: "y", values: ticksBy.slice(1, -1), len: 27, w: 6 },
        ],
        lines: [
          { pts: sTypePointer, color: "#0a14c8", w: 3 },
          { pts: nonSTypePointer, color: "#c80000", w: 3 },
        ]
      }
    }
  },
  plugins: [framePlugin]
});

// ── INSET B: P2O5 through time ───────────────────────────────────
new Chart(document.getElementById("insetB"), {
  type: "line",
  data: {
    datasets: [
      { data: zipPts(igneousAge, igneousP2O5), borderColor: "#ff1a1a", borderWidth: 6, pointRadius: 0,
        tension: 0, order: 1, clip: false },
      { data: zipPts(sedAge, sedP2O5), borderColor: "#1c4fd8", borderWidth: 6, pointRadius: 0,
        tension: 0, order: 2, clip: false },
    ]
  },
  options: {
    ...baseOpts,
    layout: { autoPadding: false, padding: { left: 0, top: 66, right: 127, bottom: 0 } },
    scales: {
      x: axis(0, 4, ticksInsetBx, v => String(v), { family: "'Liberation Sans'", size: 44, weight: "bold" }, 12, s => { s.height = 169; }),
      y: axis(0, 1.5, ticksInsetBy, v => (v === 0 ? "0" : v.toFixed(1)), { family: "'Liberation Sans'", size: 44, weight: "bold" }, 9, s => { s.width = 202; }),
    },
    plugins: {
      ...baseOpts.plugins,
      frame: {
        lw: 4, box: false,
        marks: [
          { axis: "x", values: minorInsetBx, len: 14, w: 4 },
          { axis: "y", values: [0.5, 1.0, 1.5], len: 14, w: 4 },
        ]
      }
    }
  },
  plugins: [framePlugin]
});
</script>
</body>
</html>
